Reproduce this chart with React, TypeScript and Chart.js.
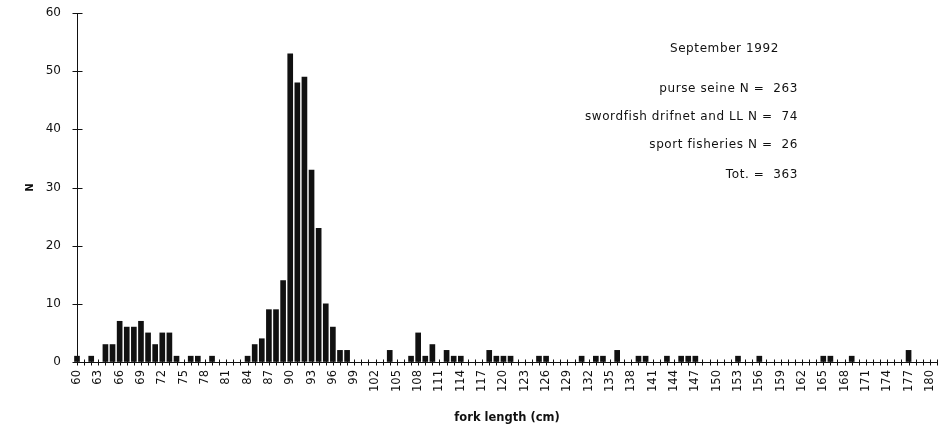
import React, { useEffect, useRef } from "react";
import { Chart, registerables } from "chart.js";

Chart.register(...registerables);

// Fork lengths (cm) with non-zero counts, and their counts (N)
const LENGTHS_CM = [
  60, 62, 64, 65, 66, 67, 68, 69, 70, 71, 72, 73, 74, 76, 77, 79, 84, 85, 86, 87,
  88, 89, 90, 91, 92, 93, 94, 95, 96, 97, 98, 104, 107, 108, 109, 110, 112, 113, 114, 118,
  119, 120, 121, 125, 126, 131, 133, 134, 136, 139, 140, 143, 145, 146, 147, 153, 156, 165, 166, 169,
  177,
];
const COUNTS = [
  1, 1, 3, 3, 7, 6, 6, 7, 5, 3, 5, 5, 1, 1, 1, 1, 1, 3, 4, 9,
  9, 14, 53, 48, 49, 33, 23, 10, 6, 2, 2, 2, 1, 5, 1, 3, 2, 1, 1, 2,
  1, 1, 1, 1, 1, 1, 1, 1, 2, 1, 1, 1, 1, 1, 1, 1, 1, 1, 1, 1,
  2,
];

const X_TICK_LABELS = [
  60, 63, 66, 69, 72, 75, 78, 81, 84, 87, 90, 93, 96, 99, 102, 105, 108, 111, 114, 117,
  120, 123, 126, 129, 132, 135, 138, 141, 144, 147, 150, 153, 156, 159, 162, 165, 168, 171, 174, 177, 180,
];
const Y_TICKS = [0, 10, 20, 30, 40, 50, 60];

const NOTE_TITLE = "September 1992";
const NOTE_LINES = [
  "purse seine N =  263",
  "swordfish drifnet and LL N =  74",
  "sport fisheries N =  26",
  "Tot. =  363",
];

const FONT = "'DejaVu Sans', Verdana, sans-serif";
const INK = "#111111";

const crossTicks = {
  id: "crossTicks",
  afterDraw(chart: any) {
    const { ctx, scales } = chart;
    const xs = scales.x;
    const ys = scales.y;
    ctx.save();
    ctx.strokeStyle = INK;
    ctx.lineWidth = 1;
    ctx.beginPath();
    const yb = Math.round(ys.getPixelForValue(0)) + 0.5;
    xs.ticks.forEach((t: any) => {
      if (!Number.isInteger(t.value)) return;
      const px = Math.round(xs.getPixelForValue(t.value)) + 0.5;
      ctx.moveTo(px, yb - 3);
      ctx.lineTo(px, yb + 3);
    });
    const xl = Math.round(xs.left) + 0.5;
    ys.ticks.forEach((t: any) => {
      const py = Math.round(ys.getPixelForValue(t.value)) + 0.5;
      ctx.moveTo(xl - 5, py);
      ctx.lineTo(xl + 5, py);
    });
    ctx.stroke();
    ctx.restore();
  },
};

const notes = {
  id: "notes",
  afterDraw(chart: any) {
    const { ctx } = chart;
    const pos = [
      [798, 89],
      [798, 117],
      [798, 145],
      [798, 175],
    ];
    ctx.save();
    ctx.fillStyle = INK;
    ctx.textAlign = "right";
    ctx.textBaseline = "middle";
    ctx.font = `12px ${FONT}`;
    try {
      (ctx as any).letterSpacing = "0.6px";
    } catch (e) {}
    ctx.fillText(NOTE_TITLE, 779, 49);
    NOTE_LINES.forEach((s, i) => {
      ctx.fillText(s, pos[i][0], pos[i][1]);
    });
    ctx.restore();
  },
};

export default function App() {
  const ref = useRef<HTMLCanvasElement | null>(null);
  useEffect(() => {
    if (!ref.current) return;
    const chart = new Chart(ref.current, {
      type: "bar",
      data: {
        datasets: [
          {
            data: LENGTHS_CM.map((x, i) => ({ x, y: COUNTS[i] })),
            backgroundColor: INK,
            borderWidth: 0,
            barThickness: 5,
            clip: false,
          },
        ],
      },
      options: {
        responsive: false,
        animation: false,
        layout: { padding: { top: 13, right: 9, left: 0, bottom: 0 } },
        plugins: {
          legend: { display: false },
          tooltip: { enabled: false },
        },
        scales: {
          x: {
            type: "linear",
            min: 60,
            max: 181,
            offset: false,
            afterFit: (s: any) => {
              s.height = 66;
              s.paddingLeft = 0;
              s.paddingRight = 0;
            },
            grid: { display: true, drawOnChartArea: false, drawTicks: false },
            border: { display: true, color: INK, width: 1 },
            ticks: {
              stepSize: 1,
              autoSkip: false,
              minRotation: 90,
              maxRotation: 90,
              padding: 8,
              color: INK,
              font: { family: FONT, size: 11.5 },
              callback: (v: any) => (X_TICK_LABELS.includes(Number(v)) ? String(v) : ""),
            },
            title: {
              display: true,
              text: "fork length (cm)",
              color: INK,
              font: { family: FONT, size: 11.5, weight: "bold" },
              padding: { top: 0, bottom: 3 },
            },
          },
          y: {
            min: 0,
            max: 60,
            afterFit: (s: any) => {
              s.width = 77;
              s.paddingTop = 0;
              s.paddingBottom = 0;
            },
            grid: { display: true, drawOnChartArea: false, drawTicks: false },
            border: { display: true, color: INK, width: 1 },
            ticks: {
              stepSize: 10,
              padding: 16,
              color: INK,
              font: { family: FONT, size: 12 },
              callback: (v: any) => (Y_TICKS.includes(Number(v)) ? String(v) : ""),
            },
            title: {
              display: true,
              text: "N",
              color: INK,
              font: { family: FONT, size: 10, weight: "bold" },
              padding: { top: 24, bottom: 0 },
            },
          },
        },
      },
      plugins: [crossTicks, notes],
    });
    return () => chart.destroy();
  }, []);
  return (
    <div style={{ position: "fixed", left: 0, top: 0, width: 946, height: 428, background: "#fff" }}>
      <canvas ref={ref} width={946} height={428} style={{ width: 946, height: 428, display: "block" }} />
    </div>
  );
}
